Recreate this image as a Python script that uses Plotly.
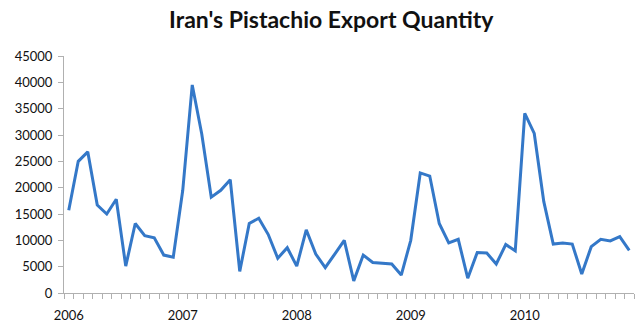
import plotly.graph_objects as go

years = ["2006", "2007", "2008", "2009", "2010"]
months_per_year = 12
quantity = [
    15700, 25000, 26800, 16700, 15000, 17800, 5100, 13200, 10900, 10500, 7200, 6800,
    19500, 39500, 30200, 18200, 19500, 21500, 4100, 13200, 14200, 11100, 6600, 8600,
    5100, 12000, 7400, 4800, 7400, 10000, 2300, 7200, 5800, 5600, 5500, 3400,
    10000, 22800, 22200, 13200, 9500, 10200, 2800, 7700, 7600, 5500, 9200, 8000,
    34100, 30300, 17400, 9300, 9500, 9300, 3600, 8800, 10200, 9900, 10700, 8100,
]
y_ticks = [0, 5000, 10000, 15000, 20000, 25000, 30000, 35000, 40000, 45000]
y_tick_labels = [str(v) for v in y_ticks]

x = list(range(len(quantity)))
year_pos = [i * months_per_year for i in range(len(years))]

fig = go.Figure(go.Scatter(x=x, y=quantity, mode="lines",
                           line=dict(color="#3478C8", width=3)))

fig.update_layout(
    width=642, height=326,
    margin=dict(l=64, r=8, t=56, b=33),
    paper_bgcolor="white", plot_bgcolor="white",
    showlegend=False,
    title=dict(text="<b>Iran's Pistachio Export Quantity</b>", x=0.516, xanchor="center",
               y=0.94, yanchor="middle",
               font=dict(family="Lato", size=23, color="#111111")),
    font=dict(family="Lato", size=13, color="#222222"),
)
fig.update_xaxes(
    range=[-0.5, len(quantity) - 0.5], automargin=False,
    tickmode="array", tickvals=year_pos, ticktext=years, ticks="",
    ticklabelstandoff=10,
    showline=True, linecolor="#B0B0B0", linewidth=1,
    showgrid=False, zeroline=False,
    tickfont=dict(size=13, color="#111111"),
    minor=dict(tickmode="array", tickvals=[i - 0.5 for i in range(len(quantity) + 1)],
               ticks="outside", ticklen=5, tickcolor="#B0B0B0", showgrid=False),
)
fig.update_yaxes(
    range=[0, 45000], tickmode="array", tickvals=y_ticks, ticktext=y_tick_labels,
    automargin=False,
    ticks="outside", ticklen=5, tickcolor="#B0B0B0",
    ticklabelstandoff=3,
    showline=True, linecolor="#B0B0B0", linewidth=1,
    showgrid=False, zeroline=False,
    tickfont=dict(size=13, color="#111111"),
)

fig.write_html("out.html")
